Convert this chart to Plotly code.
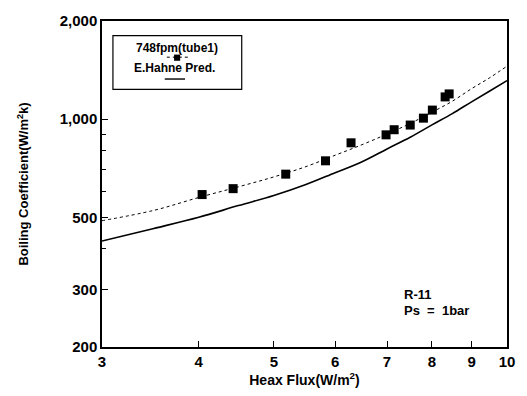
import plotly.graph_objects as go

# Measured data (748fpm, tube1)
flux_meas = [4.04, 4.43, 5.18, 5.83, 6.29, 6.98, 7.15, 7.50, 7.80, 8.01, 8.32, 8.42]
h_meas = [587, 612, 678, 745, 846, 895, 928, 959, 1007, 1066, 1170, 1195]

# Fit curve through measured data (dotted)
flux_curve = [3.0, 3.5, 4.0, 4.5, 5.0, 5.5, 6.0, 6.5, 7.0, 7.5, 8.0, 8.5, 9.0, 9.5, 10.0]
h_fit = [488, 525, 575, 620, 665, 715, 775, 835, 900, 970, 1050, 1135, 1240, 1340, 1454]
# E.Hahne prediction (solid)
h_pred = [423, 462, 500, 543, 583, 630, 685, 740, 810, 880, 960, 1040, 1130, 1220, 1313]

x_ticks = [3, 4, 5, 6, 7, 8, 9, 10]
y_ticks = [200, 300, 500, 1000, 2000]
y_ticktext = ["200", "300", "500", "1,000", "2,000"]
y_minor = [400, 600, 700, 800, 900]

FONT = "Liberation Sans"

fig = go.Figure()
fig.add_trace(go.Scatter(x=flux_curve, y=h_fit, mode="lines", line=dict(color="black", width=1, dash="dot"),
                         line_shape="spline", showlegend=False))
fig.add_trace(go.Scatter(x=flux_curve, y=h_pred, mode="lines", line=dict(color="black", width=1.6),
                         line_shape="spline", showlegend=False))
fig.add_trace(go.Scatter(x=flux_meas, y=h_meas, mode="markers",
                         marker=dict(symbol="square", size=9, color="black"), showlegend=False))

axis_common = dict(showline=True, linecolor="black", linewidth=1.5, mirror=True, showgrid=False,
                   zeroline=False, ticks="inside", tickcolor="black", ticklen=6, tickwidth=1,
                   tickfont=dict(family=FONT, size=15, color="black", weight="bold"))

fig.update_xaxes(type="log", range=[0.47712, 1.0], tickmode="array", tickvals=x_ticks,
                 ticktext=[str(v) for v in x_ticks],
                 title=dict(text="Heax Flux(W/m<sup>2</sup>)", font=dict(family=FONT, size=14, color="black", weight="bold"), standoff=4),
                 **axis_common)
fig.update_yaxes(type="log", range=[2.30103, 3.30103], tickmode="array", tickvals=y_ticks, ticktext=y_ticktext,
                 minor=dict(tickvals=y_minor, ticks="inside", ticklen=4, tickcolor="black"),
                 title=dict(text="Boiling Coefficient(W/m<sup>2</sup>k)", font=dict(family=FONT, size=13, color="black", weight="bold"), standoff=28),
                 **axis_common)

# Legend box (drawn manually to mimic original)
fig.add_shape(type="rect", xref="paper", yref="paper", x0=0.027, x1=0.345, y0=0.79, y1=0.955,
              line=dict(color="black", width=1.2))
fig.add_annotation(xref="paper", yref="paper", x=0.185, y=0.916, xanchor="center", yanchor="middle",
                   text="748fpm(tube1)", showarrow=False,
                   font=dict(family=FONT, size=12, color="black", weight="bold"))
fig.add_shape(type="line", xref="paper", yref="paper", x0=0.16, x1=0.215, y0=0.889, y1=0.889,
              line=dict(color="black", width=1, dash="dot"))
fig.add_shape(type="rect", xref="paper", yref="paper", x0=0.178, x1=0.193, y0=0.878, y1=0.897,
              fillcolor="black", line=dict(color="black", width=0))
fig.add_annotation(xref="paper", yref="paper", x=0.18, y=0.856, xanchor="center", yanchor="middle",
                   text="E.Hahne Pred.", showarrow=False,
                   font=dict(family=FONT, size=12, color="black", weight="bold"))
fig.add_shape(type="line", xref="paper", yref="paper", x0=0.155, x1=0.205, y0=0.822, y1=0.822,
              line=dict(color="black", width=1.4))

fig.add_annotation(xref="paper", yref="paper", x=0.74, y=0.162, xanchor="left", yanchor="middle",
                   text="R-11", showarrow=False,
                   font=dict(family=FONT, size=13, color="black", weight="bold"))
fig.add_annotation(xref="paper", yref="paper", x=0.74, y=0.111, xanchor="left", yanchor="middle",
                   text="Ps\u00a0\u00a0=\u00a0\u00a01bar", showarrow=False,
                   font=dict(family=FONT, size=13, color="black", weight="bold"))

fig.update_layout(width=527, height=396, margin=dict(l=102, r=19, t=15, b=48),
                  plot_bgcolor="white", paper_bgcolor="white", showlegend=False)

fig.write_html("out.html")
